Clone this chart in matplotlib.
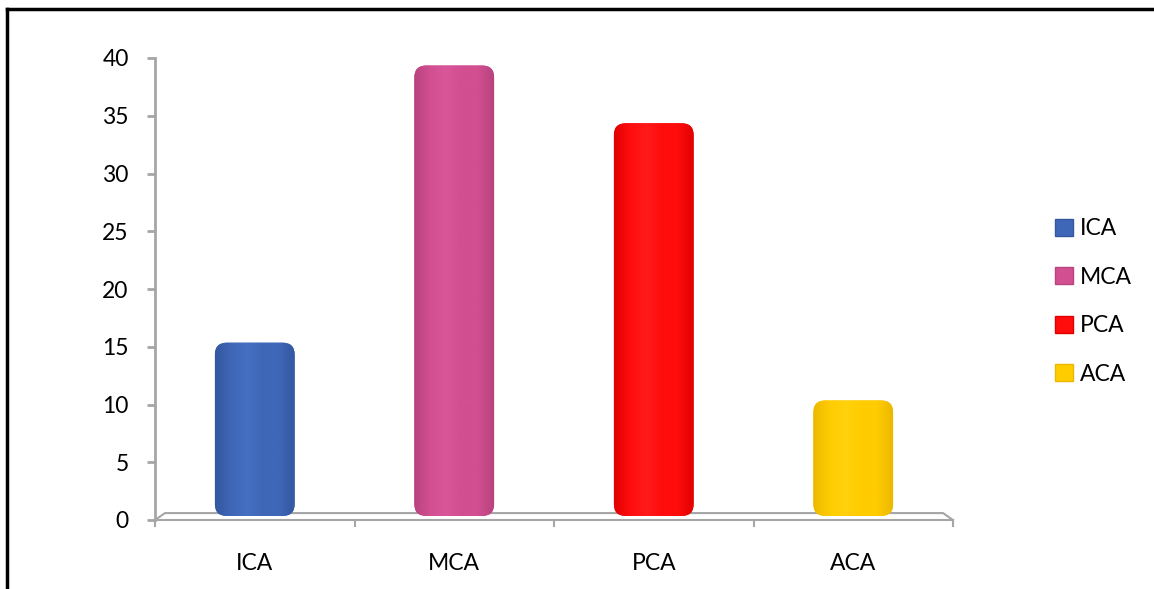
import numpy as np
import matplotlib
matplotlib.use("Agg")
import matplotlib.pyplot as plt
from matplotlib.patches import FancyBboxPatch, Patch
from matplotlib.colors import LinearSegmentedColormap
from matplotlib.lines import Line2D

categories = ["ICA", "MCA", "PCA", "ACA"]
values = [15, 39, 34, 10]
colors = ["#3F67B8", "#D24F91", "#FF0D0D", "#FFCC00"]
dark = ["#34589F", "#B8437E", "#E00000", "#EBB800"]
light = ["#456FC2", "#D8579A", "#FF1A1A", "#FFD10D"]
yticks = [0, 5, 10, 15, 20, 25, 30, 35, 40]

plt.rcParams["font.family"] = ["Lato", "DejaVu Sans"]

fig = plt.figure(figsize=(11.54, 5.89), dpi=100)
ax = fig.add_axes([155 / 1154, 69 / 589, 798 / 1154, 462 / 589])

x = np.arange(len(categories))
width = 0.4
depth = 0.35  # fake 3d floor depth in data units
ax.set_xlim(-0.5, len(categories) - 0.5)
ax.set_ylim(0, 40)

# mutation aspect so the corner rounding looks circular on screen
px_x = 798 / len(categories)
px_y = 462 / 40
asp = px_x / px_y

for xi, v, c, d, l in zip(x, values, colors, dark, light):
    bar = FancyBboxPatch((xi - width / 2, depth), width, v,
                         boxstyle="round,pad=0,rounding_size=0.06",
                         mutation_aspect=asp, facecolor=c, edgecolor="none",
                         zorder=3)
    ax.add_patch(bar)
    cmap = LinearSegmentedColormap.from_list("g", [d, c, l, c, c, d])
    grad = np.linspace(0, 1, 200).reshape(1, -1)
    im = ax.imshow(grad, cmap=cmap, aspect="auto", zorder=4,
                   extent=(xi - width / 2, xi + width / 2, depth, v + depth))
    im.set_clip_path(bar)

# floor
floor_col = "#A6A6A6"
ax.plot([-0.5, -0.45, 3.45, 3.5], [0, 0.6, 0.6, 0], color=floor_col, lw=1.5,
        zorder=2, clip_on=False)

for s in ["top", "right"]:
    ax.spines[s].set_visible(False)
ax.spines["left"].set_color(floor_col)
ax.spines["left"].set_linewidth(2)
ax.spines["bottom"].set_color(floor_col)
ax.spines["bottom"].set_linewidth(1.5)

ax.set_yticks(yticks)
ax.tick_params(axis="y", length=6, width=2, color=floor_col, pad=13,
               labelsize=16.5)
ax.set_xticks(np.arange(-0.5, len(categories)), minor=False)
ax.set_xticklabels([])
ax.tick_params(axis="x", length=5, width=1.5, color=floor_col)
ax.set_xticks(x, minor=True)
ax.set_xticklabels(categories, minor=True)
ax.tick_params(axis="x", which="minor", length=0, pad=24, labelsize=16.5)

handles = [Patch(facecolor=c, edgecolor=d) for c, d in zip(colors, dark)]
fig.legend(handles, categories, loc="center left",
           bbox_to_anchor=(1055 / 1154, 0.488), frameon=False,
           fontsize=16.5, handlelength=0.78, handleheight=0.78,
           handletextpad=0.3, labelspacing=1.2, borderpad=0,
           borderaxespad=0)

# outer frame (top and left only)
fig.add_artist(Line2D([7 / 1154, 7 / 1154], [0, 1 - 9 / 589],
                      transform=fig.transFigure, color="black", lw=2.5))
fig.add_artist(Line2D([7 / 1154, 1], [1 - 9 / 589, 1 - 9 / 589],
                      transform=fig.transFigure, color="black", lw=2.5))

fig.savefig("out.png", dpi=100)
